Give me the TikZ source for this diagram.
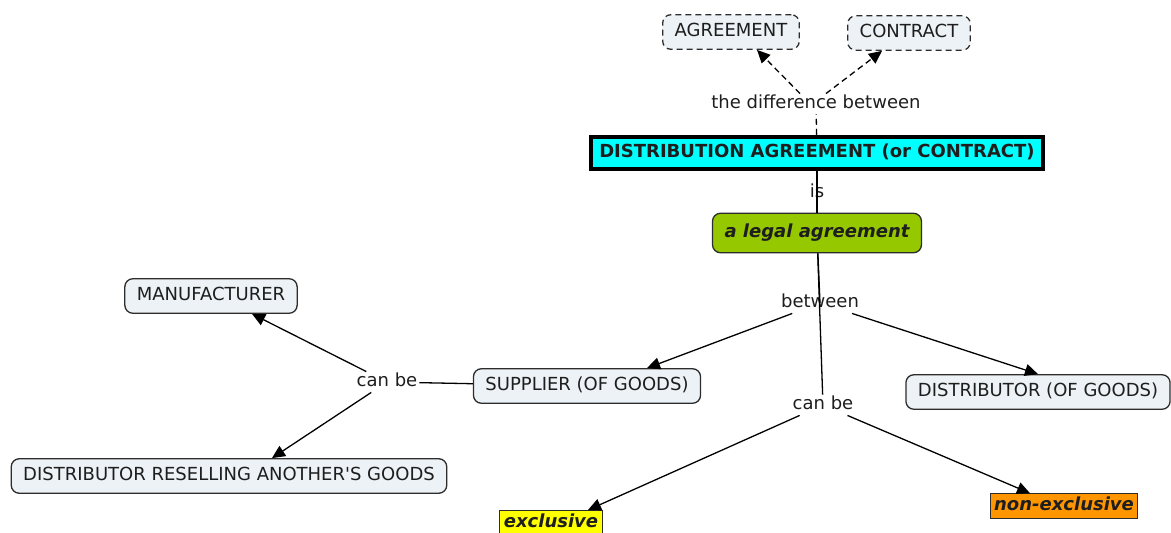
\documentclass[tikz,border=0pt]{standalone}
\usepackage{fontspec}
\setmainfont{DejaVu Sans}
\usetikzlibrary{arrows.meta}
\definecolor{cmapfill}{RGB}{236,242,245}
\definecolor{cmapline}{RGB}{45,45,45}
\definecolor{cmaptext}{RGB}{30,30,30}
\definecolor{cmapcyan}{RGB}{0,255,255}
\definecolor{cmapgreen}{RGB}{150,200,0}
\definecolor{cmaporange}{RGB}{255,150,0}
\definecolor{cmapyellow}{RGB}{255,255,0}

\begin{document}
\begin{tikzpicture}
	[x=1pt,y=-1pt,
	 every node/.style={font=\fontsize{18}{21}\selectfont,text=cmaptext,text height=13pt,text depth=3.5pt},
	 concept/.style={draw=cmapline,fill=cmapfill,rounded corners=8pt,line width=1.3pt,inner xsep=12pt,inner ysep=9pt},
	 dashconcept/.style={concept,dash pattern=on 6pt off 4pt},
	 linkword/.style={inner sep=2pt},
	 main/.style={draw=black,fill=cmapcyan,line width=4pt,inner xsep=8pt,inner ysep=8pt,font=\fontsize{18}{21}\selectfont\bfseries},
	 tag/.style={draw=cmapline,line width=1pt,inner xsep=4pt,inner ysep=4pt,font=\fontsize{18}{21}\selectfont\bfseries\itshape},
	 >={Triangle[length=13pt,width=12pt]}]
	\fill[white] (0,0) rectangle (1171,533);
	\useasboundingbox (0,0) rectangle (1171,533);

	\node[dashconcept] (agr) at (731,32) {AGREEMENT};
	\node[dashconcept] (contr) at (909,33) {CONTRACT};
	\node[linkword] (diff) at (816,104) {the difference between};
	\node[main] (dist) at (817,153) {DISTRIBUTION AGREEMENT (or CONTRACT)};
	\node[linkword] (is) at (817,193) {is};
	\node[concept,fill=cmapgreen,inner ysep=11.5pt,font=\fontsize{18}{21}\selectfont\bfseries\itshape] (legal) at (817,233) {a legal agreement};
	\node[linkword] (betw) at (820,303) {between};
	\node[concept] (sup) at (587,386) {SUPPLIER (OF GOODS)};
	\node[concept] (distr) at (1038,392) {DISTRIBUTOR (OF GOODS)};
	\node[linkword] (canR) at (823,405) {can be};
	\node[linkword] (canL) at (387,382) {can be};
	\node[concept] (manuf) at (211,296) {MANUFACTURER};
	\node[concept] (resell) at (229,476) {DISTRIBUTOR RESELLING ANOTHER\textquotesingle S GOODS};
	\node[tag,fill=cmapyellow,anchor=north] (excl) at (551,510) {exclusive};
	\node[tag,fill=cmaporange] (nonex) at (1064,506) {non-exclusive};

	\draw[line width=1.3pt,dash pattern=on 6pt off 4pt] (dist) -- (diff);
	\draw[->,line width=1.3pt,dash pattern=on 6pt off 4pt] ([xshift=-16pt]diff.north) -- ([xshift=26pt]agr.south);
	\draw[->,line width=1.3pt,dash pattern=on 6pt off 4pt] ([xshift=10pt]diff.north) -- ([xshift=-27pt]contr.south);
	\draw[line width=1.3pt] (dist) -- (is.center) -- (legal);
	\draw[line width=1.3pt] (legal) -- (betw.center);
	\draw[line width=1.3pt] (legal) -- (canR);
	\draw[->,line width=1.3pt] (betw) -- ([xshift=60pt]sup.north);
	\draw[->,line width=1.3pt] (betw) -- (distr.north);
	\draw[->,line width=1.3pt] (canR) -- ([xshift=37pt]excl.north);
	\draw[->,line width=1.3pt] (canR) -- ([xshift=-34pt]nonex.north);
	\draw[line width=1.3pt] (sup) -- (canL);
	\draw[->,line width=1.3pt] (canL) -- ([xshift=41pt]manuf.south);
	\draw[->,line width=1.3pt] (canL) -- ([xshift=43pt]resell.north);
\end{tikzpicture}
\end{document}
